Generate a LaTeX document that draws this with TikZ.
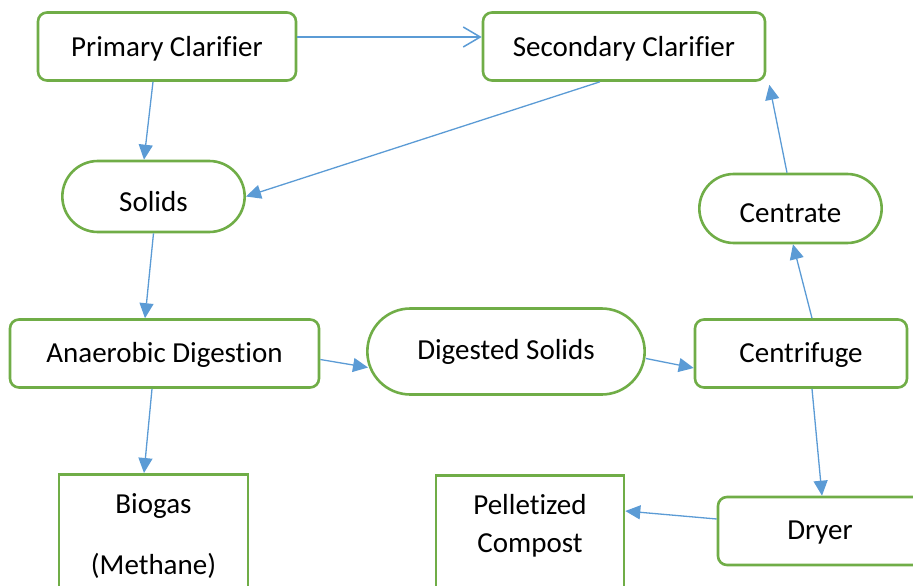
\documentclass[tikz,border=0pt]{standalone}
\usepackage{fontspec}
\setmainfont{Carlito}[Ligatures=NoCommon]
\usepackage{xcolor}
\usepackage{tikz}
\usetikzlibrary{arrows.meta,shapes.misc}

\definecolor{boxgreen}{HTML}{70AD47}
\definecolor{flowblue}{HTML}{5B9BD5}

\begin{document}
\begin{tikzpicture}[x=1pt,y=-1pt,
    rbox/.style={draw=boxgreen, line width=2.6pt, rounded corners=9pt, minimum height=68pt,
        font=\fontsize{29}{35}\selectfont, text height=21pt, text depth=3pt},
    pill/.style={rounded rectangle, draw=boxgreen, line width=2.6pt, minimum height=69pt,
        font=\fontsize{29}{35}\selectfont, text height=31pt, text depth=2pt},
    sqbox/.style={draw=boxgreen, line width=2.6pt, anchor=north, inner ysep=19pt,
        font=\fontsize{29}{35}\selectfont, align=center},
    flow/.style={draw=flowblue, line width=1.3pt, -{Triangle[length=15pt,width=14pt]}},
    flowopen/.style={draw=flowblue, line width=1.5pt, -{Straight Barb[length=17pt,width=20pt]}}]
        \useasboundingbox (0,0) rectangle (913,586);
        % top row
        \node[rbox, minimum width=258pt, text height=22pt, text depth=2pt] (prim) at (167,46.5) {Primary Clarifier};
        \node[rbox, minimum width=282pt, text height=22pt, text depth=2pt] (sec) at (624,46.5) {Secondary Clarifier};
        \node[pill, minimum width=189pt, minimum height=71pt] (solids) at (153.5,196.5) {Solids};
        \node[pill, minimum width=189pt, text height=30pt] (centrate) at (790.5,208.5) {Centrate};
        % middle row
        \node[rbox, minimum width=309pt] (anaer) at (164.5,353.5) {Anaerobic Digestion};
        \node[pill, minimum width=284pt, minimum height=86pt, text height=18pt] (digest) at (506,351.5) {Digested Solids};
        \node[rbox, minimum width=212pt] (centri) at (801,353.5) {Centrifuge};
        % bottom row, cut off by the page
        \node[sqbox, minimum width=189pt] (biogas) at (153.5,473) {Biogas\\[26pt](Methane)};
        \node[sqbox, minimum width=188pt] (pellet) at (530,474) {Pelletized\\[3pt]Compost\\[30pt]};
        \node[rbox, minimum width=204pt, text height=19pt] (dryer) at (820,531) {Dryer};
        % flows
        \draw[flowopen] ([yshift=9.5pt]prim.east) -- ([yshift=9.5pt]sec.west);
        \draw[flow] ([xshift=-14pt]prim.south) -- ([xshift=-9.5pt]solids.north);
        \draw[flow] ([xshift=-24pt]sec.south) -- (solids.east);
        \draw[flow] (solids.south) -- ([xshift=-19.5pt]anaer.north);
        \draw[flow] ([yshift=-6pt]anaer.east) -- ([xshift=2pt,yshift=-16pt]digest.west);
        \draw[flow] ([yshift=-7pt]digest.east) -- ([yshift=-14.5pt]centri.west);
        \draw[flow] ([xshift=11pt]centri.north) -- ([xshift=2.5pt]centrate.south);
        \draw[flow] ([xshift=-3.5pt]centrate.north) -- ([shift={(3pt,-3pt)}]sec.south east);
        \draw[flow] ([xshift=-12.5pt]anaer.south) -- ([xshift=-9.5pt]biogas.north);
        \draw[flow] ([xshift=11pt]centri.south) -- ([xshift=2pt]dryer.north);
        \draw[flow] ([yshift=12pt]dryer.west) -- ([yshift=-37pt]pellet.north east);
    \end{tikzpicture}
\end{document}
